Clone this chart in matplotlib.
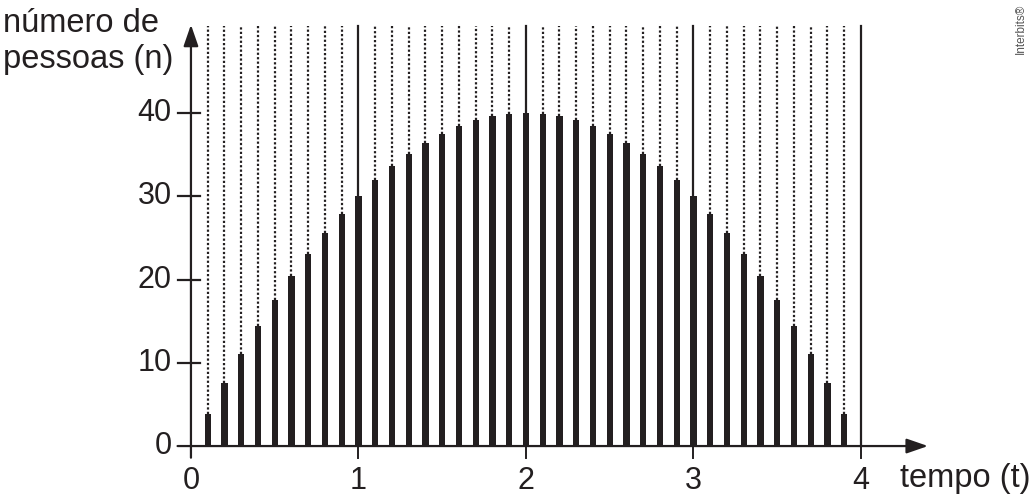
import matplotlib
matplotlib.use("Agg")
import matplotlib.pyplot as plt

# data
t = [0.1, 0.2, 0.3, 0.4, 0.5, 0.6, 0.7, 0.8, 0.9, 1.0,
     1.1, 1.2, 1.3, 1.4, 1.5, 1.6, 1.7, 1.8, 1.9, 2.0,
     2.1, 2.2, 2.3, 2.4, 2.5, 2.6, 2.7, 2.8, 2.9, 3.0,
     3.1, 3.2, 3.3, 3.4, 3.5, 3.6, 3.7, 3.8, 3.9]
n = [3.9, 7.6, 11.1, 14.4, 17.5, 20.4, 23.1, 25.6, 27.9, 30.0,
     31.9, 33.6, 35.1, 36.4, 37.5, 38.4, 39.1, 39.6, 39.9, 40.0,
     39.9, 39.6, 39.1, 38.4, 37.5, 36.4, 35.1, 33.6, 31.9, 30.0,
     27.9, 25.6, 23.1, 20.4, 17.5, 14.4, 11.1, 7.6, 3.9]
x_ticks = [0, 1, 2, 3, 4]
y_ticks = [0, 10, 20, 30, 40]
solid_t = [1, 2, 3]
y_top = 50.4

plt.rcParams['font.family'] = ['Liberation Sans', 'DejaVu Sans']
ink = '#231f20'

fig = plt.figure(figsize=(10.34, 4.96), dpi=100)
ax = fig.add_axes([0, 0, 1, 1])
ax.set_xlim(-1.140, 5.033)
ax.set_ylim(-6.0, 53.57)
ax.axis('off')

# bars
ax.bar(t, n, width=0.037, color=ink, zorder=3)

# dotted/solid guide lines
for ti, ni in zip(t, n):
    if any(abs(ti - s) < 1e-9 for s in solid_t):
        ax.plot([ti, ti], [ni, y_top], color=ink, lw=1.6, zorder=2)
    else:
        ax.plot([ti, ti], [ni, y_top], color=ink, lw=1.6,
                linestyle=(0, (1.0, 1.0)), zorder=2)
ax.plot([4, 4], [0, y_top], color=ink, lw=1.6, zorder=2)

# axes with arrows
ax.annotate('', xy=(4.4, 0), xytext=(-0.08, 0),
            arrowprops=dict(arrowstyle='-|>,head_length=1.3,head_width=0.45',
                            color=ink, lw=1.6, shrinkA=0, shrinkB=0))
ax.annotate('', xy=(0, 50.6), xytext=(0, -1.4),
            arrowprops=dict(arrowstyle='-|>,head_length=1.3,head_width=0.45',
                            color=ink, lw=1.6, shrinkA=0, shrinkB=0))

# ticks
for yv in y_ticks[1:]:
    ax.plot([-0.075, 0.055], [yv, yv], color=ink, lw=1.6)
for yv in y_ticks:
    ax.text(-0.115, yv, str(yv), ha='right', va='center', fontsize=22, color=ink)
for xv in x_ticks[1:]:
    ax.plot([xv, xv], [0, -1.4], color=ink, lw=1.4)
for xv in x_ticks:
    ax.text(xv, -5.2, str(xv), ha='center', va='baseline', fontsize=22, color=ink)

ax.text(-1.122, 49.75, 'número de', ha='left', va='baseline',
        fontsize=23.5, color=ink)
ax.text(-1.122, 45.4, 'pessoas (n)', ha='left', va='baseline',
        fontsize=23.5, color=ink)
ax.text(4.235, -4.95, 'tempo (t)', ha='left', va='baseline', fontsize=23.5, color=ink)
ax.text(4.955, 53.1, 'Interbits®', rotation=90, ha='center', va='top',
        fontsize=8.5, color='#555555')

fig.savefig('out.png', dpi=100)
